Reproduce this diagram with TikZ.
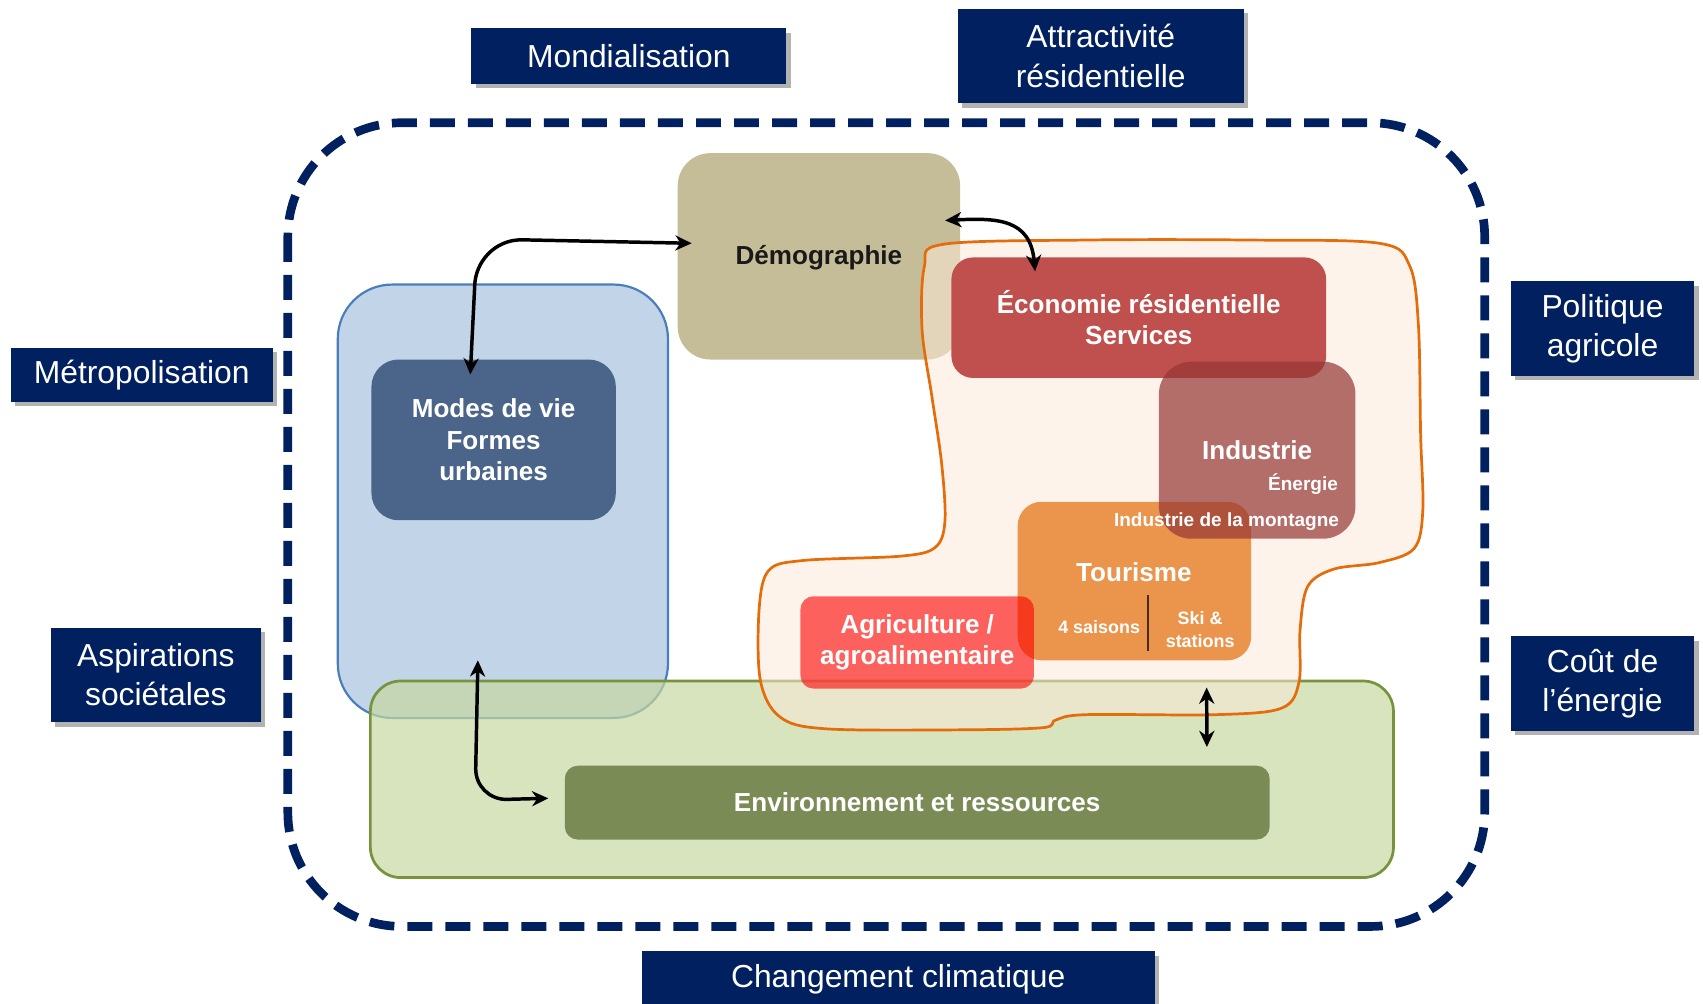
\documentclass[tikz,border=0pt]{standalone}
\usepackage{fontspec}
\setmainfont{Liberation Sans}
\usetikzlibrary{arrows.meta,shadows}

\definecolor{navy}{HTML}{002060}
\definecolor{sable}{HTML}{C4BD97}
\definecolor{bleuclair}{HTML}{C2D4E8}
\definecolor{bleubord}{HTML}{4A7EBB}
\definecolor{bleuvie}{HTML}{4A6589}
\definecolor{vertclair}{HTML}{C6D8A1}
\definecolor{vertbord}{HTML}{77933C}
\definecolor{olive}{HTML}{7B8B56}
\definecolor{peche}{HTML}{FBE9D8}
\definecolor{orangebord}{HTML}{E46C0A}
\definecolor{rouge}{HTML}{C0504D}
\definecolor{bordeaux}{HTML}{953735}
\definecolor{brunsep}{HTML}{4A2A10}

\begin{document}
\begin{tikzpicture}[x=1pt,y=-1pt,
  trend/.style={fill=navy, text=white, inner sep=0pt, align=center,
    font=\fontsize{29.3}{36}\selectfont,
    drop shadow={shadow xshift=4pt, shadow yshift=-4pt, fill=black, opacity=0.3}},
  pave/.style={inner sep=0pt, align=center, text=white,
    font=\bfseries\fontsize{24}{29}\selectfont},
  inlabel/.style={inner sep=0pt, text=white, font=\bfseries\fontsize{24}{29}\selectfont},
  petit/.style={inner sep=0pt, text=white, font=\bfseries\fontsize{17.5}{21}\selectfont},
  mini/.style={inner sep=0pt, align=center, text=white, font=\bfseries\fontsize{16.5}{21}\selectfont},
  link/.style={line width=3.2pt, black,
    {Stealth[length=15pt,width=14pt]}-{Stealth[length=15pt,width=14pt]}}]
\useasboundingbox (0,0) rectangle (1568,924);

% dashed frame
\draw[navy, line width=8pt, dash pattern=on 23pt off 12pt, rounded corners=105pt]
  (265,113) rectangle (1367,853);

% outside drivers
\node[trend, minimum width=290pt, minimum height=51pt] (mondial) at (579,51.5) {Mondialisation};
\node[trend, minimum width=263pt, minimum height=87pt] (attract) at (1013.5,51.5) {Attractivité\\résidentielle};
\node[trend, minimum width=241pt, minimum height=50pt] (metro) at (130.5,345) {Métropolisation};
\node[trend, minimum width=193pt, minimum height=87pt] (aspir) at (143.5,621.5) {Aspirations\\sociétales};
\node[trend, minimum width=169pt, minimum height=87pt] (polit) at (1475.5,302.5) {Politique\\agricole};
\node[trend, minimum width=169pt, minimum height=87pt] (cout) at (1475.5,629.5) {Coût de\\l’énergie};
\node[trend, minimum width=472pt, minimum height=51pt] (climat) at (827,901.5) {Changement climatique};

% inner blocks
\node[pave, fill=sable, text=black!90, minimum width=260pt, minimum height=190pt, rounded corners=30pt, text depth=2pt] (demo) at (754,236) {Démographie};
\node[fill=bleuclair, draw=bleubord, line width=2pt, minimum width=304pt, minimum height=399pt, rounded corners=50pt] (cadrevie) at (463,461.5) {};
\node[pave, fill=bleuvie, minimum width=225pt, minimum height=148pt, rounded corners=25pt] (modes) at (454.5,405) {Modes de vie\\Formes\\urbaines};
\node[fill=vertclair, fill opacity=0.7, draw=vertbord, line width=2.5pt, minimum width=942pt, minimum height=181pt, rounded corners=28pt] (cadreenv) at (812,717.5) {};
\node[pave, fill=olive, minimum width=649pt, minimum height=68pt, rounded corners=12pt] (env) at (844.5,739) {Environnement et ressources};

% economy outline
\draw[fill=peche, fill opacity=0.55, draw=orangebord, line width=2.5pt]
  plot[smooth cycle, tension=0.55] coordinates {
  (868,225) (1000,221) (1150,221) (1270,224) (1298,245) (1306,300) (1308,400)
  (1310,470) (1302,505) (1270,518) (1228,524) (1204,540) (1197,580) (1196,628)
  (1180,652) (1120,658) (1000,658) (972,663) (960,670) (880,672) (760,671)
  (718,660) (700,626) (699,560) (708,525) (740,516) (830,512) (861,504)
  (870,480) (867,427) (858,365) (849,304) (851,246)};

\node[pave, fill=rouge, minimum width=345pt, minimum height=111pt, rounded corners=20pt] (eco) at (1048.5,292.5) {Économie résidentielle\\Services};
\node[fill=orangebord, fill opacity=0.7, minimum width=215pt, minimum height=146pt, rounded corners=22pt] (touris) at (1044.5,535) {};
\node[pave, fill=bordeaux, fill opacity=0.7, text opacity=1, minimum width=181pt, minimum height=163pt, rounded corners=30pt] (indus) at (1157.5,414.5) {Industrie};
\node[pave, fill=red, fill opacity=0.6, text opacity=1, minimum width=215pt, minimum height=85pt, rounded corners=12pt] (agri) at (844.5,591.5) {Agriculture /\\agroalimentaire};

% texts
\node[petit, anchor=east] (energie) at (1232,446) {Énergie};
\node[petit, anchor=east] (montagne) at (1233,480) {Industrie de la montagne};
\node[inlabel] (tourtitre) at (1044,527) {Tourisme};
\node[mini] (saisons) at (1012,577) {4 saisons};
\node[mini] (ski) at (1105,580) {Ski \&\\stations};
\draw[line width=1.5pt, brunsep] (1057,548) -- (1057,599);

% links
\coordinate (pied) at (1111,633);
\draw[link] ([xshift=-21.5pt,yshift=-14pt]modes.north) -- ++(4,-80)
  to[out=90,in=180] ++(43,-44) -- ([xshift=13pt,yshift=12pt]demo.west);
\draw[link] ([xshift=-14pt,yshift=33pt]demo.east) to[out=3,in=95,looseness=1.3]
  ([xshift=-95.5pt,yshift=-13pt]eco.north);
\draw[link] ([xshift=-23pt,yshift=54pt]cadrevie.south) -- ++(-2,100)
  to[out=-90,in=180] ++(28,28) -- ([xshift=-15pt,yshift=4pt]env.west);
\draw[link] (pied) -- ([xshift=-58pt,yshift=17pt]env.north east);

\end{tikzpicture}
\end{document}
